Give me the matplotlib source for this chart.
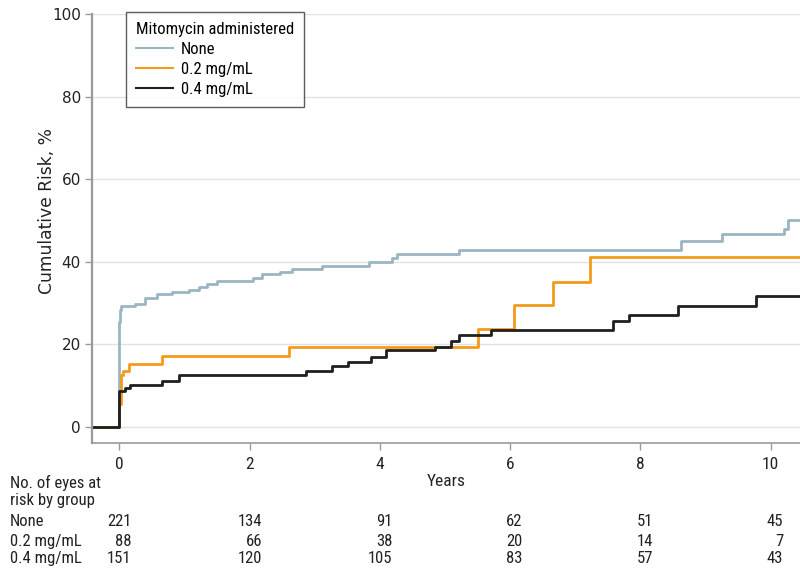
#!/usr/bin/env python3
"""Cumulative risk step curves by mitomycin dose, with number-at-risk table."""

import matplotlib
matplotlib.use("Agg")
import matplotlib.pyplot as plt
from matplotlib import transforms, font_manager

# pick a narrow font if one is around
names = {f.name for f in font_manager.fontManager.ttflist}
cond = {f.name for f in font_manager.fontManager.ttflist
        if "ondensed" in str(f.stretch) or "arrow" in f.name or "ondensed" in f.name}
STRETCH = "normal"
NARROW = ["Roboto", "DejaVu Sans"]
for cand in ["Liberation Sans Narrow", "Roboto Condensed", "Open Sans Condensed",
             "DejaVu Sans Condensed", "Noto Sans Condensed"]:
    if cand in names:
        NARROW = [cand, "DejaVu Sans"]
        break
else:
    if "DejaVu Sans" in cond:
        NARROW = ["DejaVu Sans"]
        STRETCH = "condensed"
    elif "Noto Sans" in cond:
        NARROW = ["Noto Sans"]
        STRETCH = "condensed"

# step curves (years, cumulative risk %)
none_t = [-0.5, 0.0, 0.01, 0.03, 0.245, 0.40, 0.58, 0.81, 1.065, 1.23, 1.34, 1.50,
          2.05, 2.19, 2.47, 2.65, 3.11, 3.83, 4.18, 4.27, 5.21, 8.63, 9.26, 10.21,
          10.27, 10.6]
none_v = [0, 25.4, 28.3, 29.3, 29.8, 31.2, 32.2, 32.6, 33.2, 33.8, 34.5, 35.4,
          36.0, 37.0, 37.5, 38.3, 38.9, 40.0, 40.8, 41.8, 42.9, 44.9, 46.6, 48.0,
          50.0, 50.0]

low_t = [-0.5, 0.0, 0.025, 0.055, 0.15, 0.65, 2.60, 5.51, 6.06, 6.66, 7.22, 10.6]
low_v = [0, 5.6, 12.4, 13.6, 15.2, 17.1, 19.3, 23.7, 29.5, 35.1, 41.0, 41.0]

high_t = [-0.5, 0.0, 0.08, 0.17, 0.65, 0.91, 2.87, 3.26, 3.51, 3.86, 4.10, 4.85,
          5.09, 5.22, 5.70, 7.58, 7.82, 8.57, 9.78, 10.6]
high_v = [0, 8.7, 9.3, 10.2, 11.0, 12.4, 13.6, 14.6, 15.7, 16.9, 18.5, 19.2,
          20.7, 22.2, 23.3, 25.5, 27.0, 29.2, 31.6, 31.6]

# number at risk
risk_years = [0, 2, 4, 6, 8, 10]
groups = ["None", "0.2 mg/mL", "0.4 mg/mL"]
at_risk = [
    [221, 134, 91, 62, 51, 45],
    [88, 66, 38, 20, 14, 7],
    [151, 120, 105, 83, 57, 43],
]

TXT = dict(family=NARROW, stretch=STRETCH, color="#222222")

fig = plt.figure(figsize=(8, 5.72), dpi=100)
ax = fig.add_axes([0.115, 0.226, 0.885, 0.7495])

ax.step(none_t, none_v, where="post", color="#9bb6c2", lw=2, label="None")
ax.step(low_t, low_v, where="post", color="#f39a1c", lw=2, label="0.2 mg/mL")
ax.step(high_t, high_v, where="post", color="#1f1f1f", lw=2, label="0.4 mg/mL")

ax.set_xlim(-0.42, 10.45)
ax.set_ylim(-3.9, 100)
ax.set_yticks(range(0, 101, 20))
ax.set_xticks(risk_years)
ax.grid(axis="y", color="#e2e2e2", lw=1)
ax.set_axisbelow(True)
for side in ["top", "right"]:
    ax.spines[side].set_visible(False)
ax.spines["left"].set_color("#9a9a9a")
ax.spines["left"].set_linewidth(1.6)
ax.spines["bottom"].set_color("#9a9a9a")
ax.spines["bottom"].set_linewidth(1.2)
ax.tick_params(colors="#9a9a9a", length=5, width=1)
ax.tick_params(axis="y", labelcolor="#222222", labelsize=11, pad=3)
ax.tick_params(axis="x", labelcolor="#222222", labelsize=12.5, pad=5)
for lab in ax.get_xticklabels():
    lab.set_family(NARROW)
    lab.set_stretch(STRETCH)

ax.set_ylabel("Cumulative Risk, %", fontsize=12.3, color="#222222")
ax.yaxis.set_label_coords(-0.051, 0.54)
ax.set_xlabel("Years", fontsize=12.5, labelpad=2, **TXT)

leg = ax.legend(loc="upper left", bbox_to_anchor=(0.048, 1.005),
                borderaxespad=0, title="Mitomycin administered", alignment="left",
                prop={"family": NARROW, "stretch": STRETCH, "size": 12},
                title_fontproperties={"family": NARROW, "stretch": STRETCH,
                                      "size": 12},
                frameon=True, fancybox=False, handlelength=2.2,
                borderpad=0.6, labelspacing=0.3, handletextpad=0.5)
leg.get_frame().set_edgecolor("#333333")
leg.get_frame().set_linewidth(1)
for line in leg.get_lines():
    line.set_linewidth(1.5)

# number at risk table
trans = transforms.blended_transform_factory(ax.transData, fig.transFigure)
fig.text(0.012, 0.141, "No. of eyes at\nrisk by group", fontsize=12,
         va="center", linespacing=1.15, **TXT)
row_y = [0.088, 0.054, 0.023]
for name, counts, y in zip(groups, at_risk, row_y):
    fig.text(0.012, y, name, fontsize=12, va="center", **TXT)
    for yr, n in zip(risk_years, counts):
        ax.text(yr + 0.19, y, str(n), transform=trans, ha="right", va="center",
                fontsize=12, **TXT)

fig.savefig("out.png", dpi=100)
